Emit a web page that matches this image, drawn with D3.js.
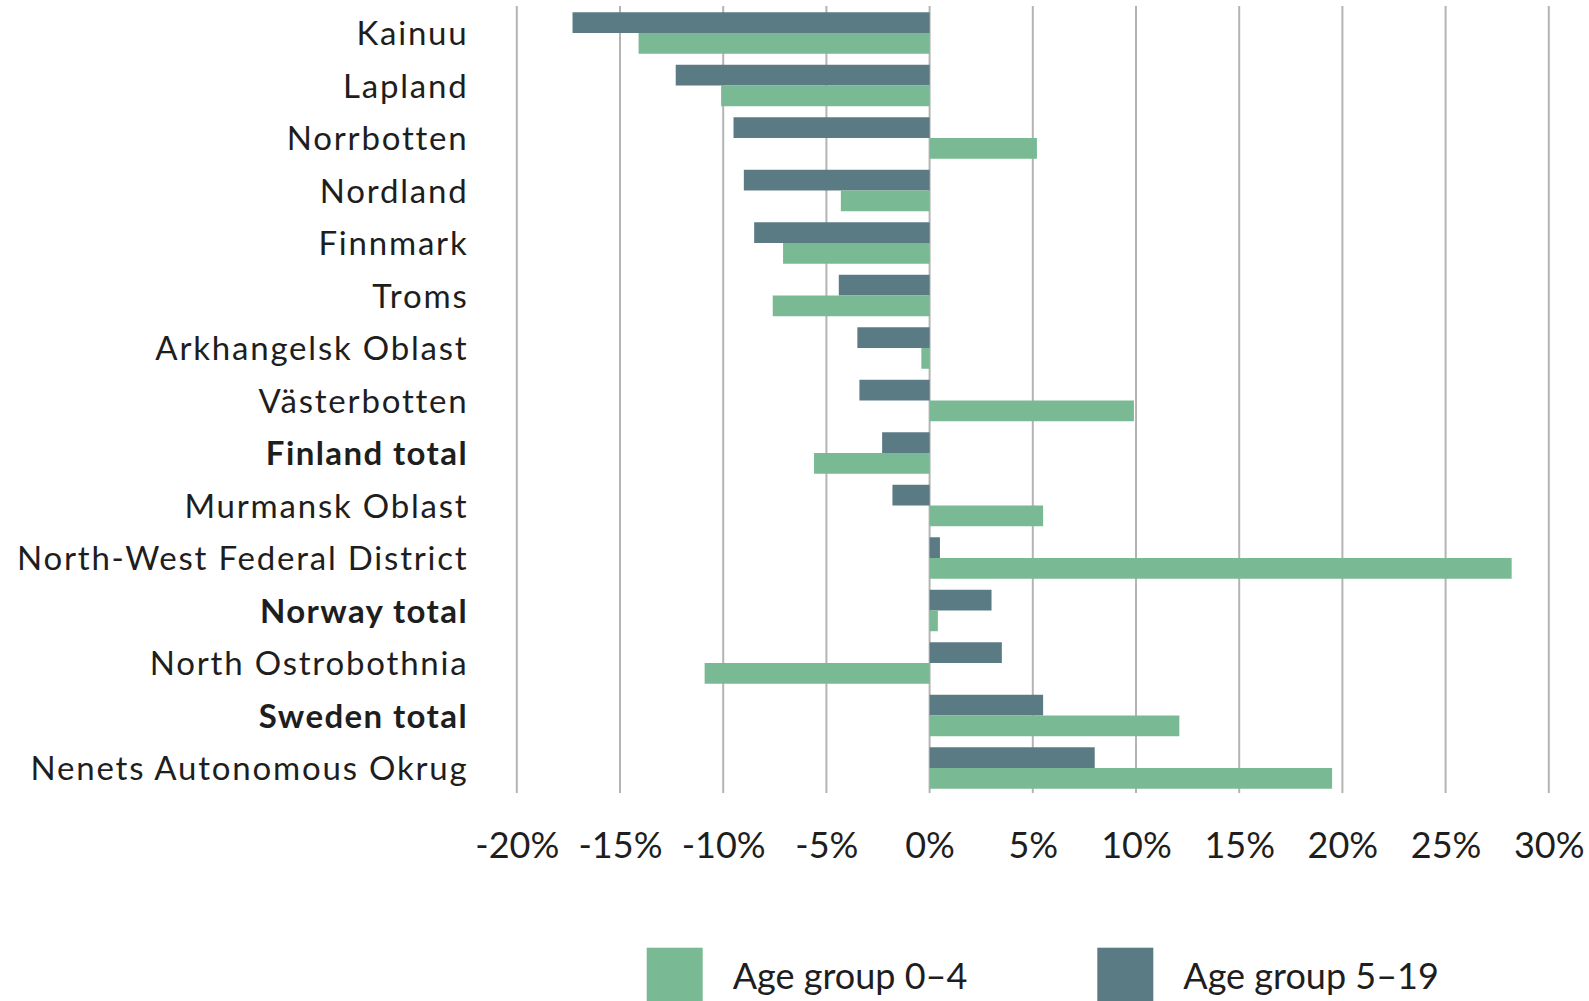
<!DOCTYPE html>
<html>
<head>
<meta charset="utf-8">
<script src="https://cdn.jsdelivr.net/npm/d3@7/dist/d3.min.js"></script>
<style>
  html, body { margin: 0; padding: 0; background: #fff; }
  svg { display: block; }
  text { font-family: Lato, "Noto Sans", sans-serif; fill: #1e1e1e; }
</style>
</head>
<body>
<svg id="chart" width="1589" height="1001"></svg>
<script>
const categories = [
  "Kainuu", "Lapland", "Norrbotten", "Nordland", "Finnmark", "Troms",
  "Arkhangelsk Oblast", "Västerbotten", "Finland total", "Murmansk Oblast",
  "North-West Federal District", "Norway total", "North Ostrobothnia",
  "Sweden total", "Nenets Autonomous Okrug"
];
const boldCategories = ["Finland total", "Norway total", "Sweden total"];
const age5to19 = [-17.3, -12.3, -9.5, -9.0, -8.5, -4.4, -3.5, -3.4, -2.3, -1.8, 0.5, 3.0, 3.5, 5.5, 8.0];
const age0to4  = [-14.1, -10.1, 5.2, -4.3, -7.1, -7.6, -0.4, 9.9, -5.6, 5.5, 28.2, 0.4, -10.9, 12.1, 19.5];
const tickValues = [-20, -15, -10, -5, 0, 5, 10, 15, 20, 25, 30];
const seriesNames = ["Age group 0–4", "Age group 5–19"];
const seriesColors = ["#79ba94", "#5a7a84"];

const svg = d3.select("#chart");

const x = d3.scaleLinear().domain([-20, 30]).range([516.8, 1548.8]);
const y = d3.scaleBand().domain(categories).range([6.75, 794.25])
  .paddingInner(0.21).paddingOuter(0.105);
const sub = d3.scaleBand().domain(["s519", "s04"]).range([0, y.bandwidth()]);

// gridlines
svg.append("g").selectAll("line").data(tickValues).join("line")
  .attr("x1", d => x(d)).attr("x2", d => x(d))
  .attr("y1", 6).attr("y2", 793)
  .attr("stroke", "#b4b4b4").attr("stroke-width", 2);

const rows = categories.map((c, i) => ({ c, s519: age5to19[i], s04: age0to4[i] }));

const g = svg.append("g");
g.selectAll("rect.s519").data(rows).join("rect").attr("class", "s519")
  .attr("x", d => x(Math.min(0, d.s519)))
  .attr("width", d => Math.abs(x(d.s519) - x(0)))
  .attr("y", d => y(d.c) + sub("s519"))
  .attr("height", sub.bandwidth())
  .attr("fill", seriesColors[1]);
g.selectAll("rect.s04").data(rows).join("rect").attr("class", "s04")
  .attr("x", d => x(Math.min(0, d.s04)))
  .attr("width", d => Math.abs(x(d.s04) - x(0)))
  .attr("y", d => y(d.c) + sub("s04"))
  .attr("height", sub.bandwidth())
  .attr("fill", seriesColors[0]);

// category labels
svg.append("g").selectAll("text").data(categories).join("text")
  .attr("x", d => boldCategories.includes(d) ? 468 : 468.5)
  .attr("y", d => y(d) + y.bandwidth() / 2 + 12)
  .attr("text-anchor", "end")
  .attr("font-size", 33)
  .attr("letter-spacing", d => boldCategories.includes(d) ? 1.4 : 1.8)
  .attr("font-weight", d => boldCategories.includes(d) ? 700 : 400)
  .text(d => d);

// x tick labels
const xAxis = d3.axisBottom(x).tickValues(tickValues).tickSize(0).tickPadding(0)
  .tickFormat(d => d + "%");
const ax = svg.append("g").attr("transform", "translate(0,832)").call(xAxis);
ax.select(".domain").remove();
ax.selectAll("text").attr("font-size", 36).attr("font-family", "Lato, sans-serif")
  .attr("fill", "#1e1e1e").attr("dy", "0.72em").attr("y", 0);

// legend
const legendX = [646.7, 1097.3];
const leg = svg.append("g").selectAll("g").data(seriesNames).join("g")
  .attr("transform", (d, i) => `translate(${legendX[i]},947.7)`);
leg.append("rect").attr("width", 56).attr("height", 60)
  .attr("fill", (d, i) => seriesColors[i]);
leg.append("text").attr("x", 86).attr("y", 41.6)
  .attr("font-size", 36).text(d => d);
</script>
</body>
</html>
